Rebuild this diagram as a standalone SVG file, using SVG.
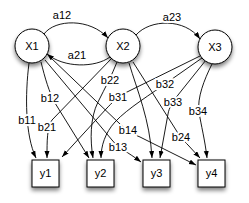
<svg xmlns="http://www.w3.org/2000/svg" width="249" height="203" viewBox="0 0 249 203">
<style>
.n{fill:#fff;stroke:#000;stroke-width:1;filter:url(#sh)}
.e{fill:none;stroke:#000;stroke-width:0.9;marker-end:url(#ah)}
text{font-family:"Liberation Sans",Arial,sans-serif;font-size:11px;fill:#000;text-anchor:middle}
.l{stroke:#fff;stroke-width:4;paint-order:stroke;stroke-linejoin:round}
</style>
<defs>
<filter id="sh" x="-30%" y="-30%" width="160%" height="170%">
<feGaussianBlur in="SourceAlpha" stdDeviation="2"/>
<feOffset dx="0" dy="3" result="b"/>
<feComponentTransfer><feFuncA type="linear" slope="0.5"/></feComponentTransfer>
<feMerge><feMergeNode/><feMergeNode in="SourceGraphic"/></feMerge>
</filter>
<marker id="ah" markerUnits="userSpaceOnUse" markerWidth="8" markerHeight="6" refX="7" refY="2.5" orient="auto">
<path d="M0,0 L7,2.5 L0,5 z" fill="#000"/>
</marker>
</defs>
<g id="connectors">
<path class="e" d="M44,34 C55,19 90,18 108,38"/>
<path class="e" d="M110,57 C95,68 64,68 47,54"/>
<path class="e" d="M136,35 C150,19 185,18 200,39"/>
<path class="e" d="M29,63 C25,95 25,135 36,158"/>
<path class="e" d="M112,58 L52,120 C47,128 47,140 47,158"/>
<path class="e" d="M200,56 L123,94 C115,99 112,103 107,108 L62,157"/>
<path class="e" d="M41,62 C45,78 49,92 55,103 L89,158"/>
<path class="e" d="M117,62 C112,75 105,88 98,102 C90,118 90,140 93,158"/>
<path class="e" d="M202,58 L172,79 C150,95 128,108 115,122 C105,133 101,146 101,158"/>
<path class="e" d="M45,60 L112,140 C118,148 128,152 141,162"/>
<path class="e" d="M129,63 C137,90 150,120 152,158"/>
<path class="e" d="M206,60 L178,95 C172,103 169,108 168,114 L160,158"/>
<path class="e" d="M50,57 L120,124 C126,130 132,134 140,137 L196,165"/>
<path class="e" d="M133,62 L176,130 C180,137 184,141 188,145 L200,158"/>
<path class="e" d="M212,64 C204,80 197,98 199,112 C201,125 205,140 207,158"/>
<text class="l" x="62" y="19">a12</text>
<text class="l" x="77" y="59">a21</text>
<text class="l" x="172" y="21">a23</text>
<text class="l" x="27" y="124">b11</text>
<text class="l" x="47" y="131">b21</text>
<text class="l" x="50" y="102">b12</text>
<text class="l" x="110" y="84">b22</text>
<text class="l" x="118" y="101">b31</text>
<text class="l" x="165" y="88">b32</text>
<text class="l" x="173" y="106">b33</text>
<text class="l" x="198" y="115">b34</text>
<text class="l" x="128" y="134">b14</text>
<text class="l" x="181" y="141">b24</text>
<text class="l" x="118" y="151">b13</text>
</g>
<g id="X1"><circle class="n" cx="32" cy="46" r="17"/><text x="32" y="50">X1</text></g>
<g id="X2"><circle class="n" cx="123" cy="46" r="17"/><text x="123" y="50">X2</text></g>
<g id="X3"><circle class="n" cx="215" cy="47" r="17"/><text x="215" y="51">X3</text></g>
<g id="y1"><rect class="n" x="32" y="160" width="27" height="27"/><text x="45.5" y="177">y1</text></g>
<g id="y2"><rect class="n" x="87" y="160" width="27" height="27"/><text x="100.5" y="177">y2</text></g>
<g id="y3"><rect class="n" x="143" y="160" width="27" height="27"/><text x="156.5" y="177">y3</text></g>
<g id="y4"><rect class="n" x="198" y="160" width="27" height="27"/><text x="211.5" y="177">y4</text></g>
</svg>
